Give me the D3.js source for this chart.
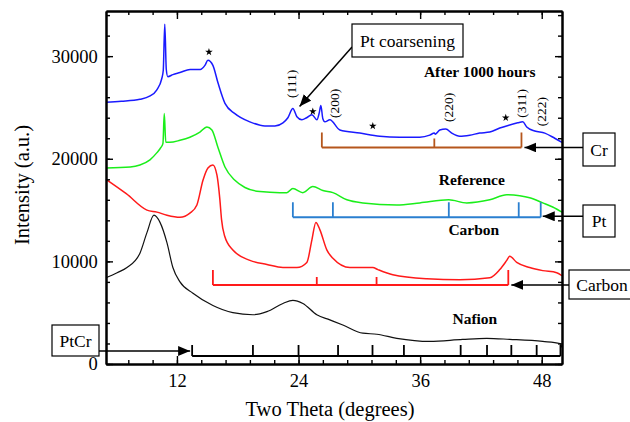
<!DOCTYPE html>
<html>
<head>
<meta charset="utf-8">
<script src="https://cdn.jsdelivr.net/npm/d3@7"></script>
<style>
  body { margin: 0; background: #fff; }
  svg { font-family: "Liberation Serif", "Times New Roman", serif; }
  .axis path, .axis line { stroke: #000; }
</style>
</head>
<body>
<svg width="630" height="422"></svg>
<script>
// two theta (deg), intensity (a.u.)
const afterHours = [
  [5.0,25500],[6.5,25600],[8.35,25800],[9.3,26100],[10.0,26700],[10.5,27800],[10.65,28600],
  [10.8,33100],[10.95,28700],[11.1,28000],[11.6,28200],[12.3,28400],[13.3,28700],[14.3,28700],
  [14.76,29100],[15.06,29600],[15.55,29100],[16.05,27400],[16.74,25400],[17.72,24400],[19.2,23600],
  [20.68,23200],[21.67,23200],[22.46,23500],[22.95,24000],[23.44,24900],[23.84,24100],[24.33,23800],
  [24.8,24000],[25.32,24300],[25.81,23800],[26.05,24500],[26.2,25200],[26.4,23900],[26.6,23600],
  [27.09,23800],[28.08,22800],[30.05,22500],[32.02,22200],[34.0,22100],[35.97,22100],[36.95,22300],
  [37.4,22500],[37.5,22400],[37.94,22800],[38.53,22900],[39.12,22500],[39.91,22200],[40.9,22300],
  [41.88,22500],[42.87,22600],[43.86,23000],[44.84,23300],[45.63,23500],[46.12,23600],[46.52,23100],
  [47.31,22700],[48.3,22500],[49.28,22000],[50.0,21600]
];
const reference = [
  [5.0,19100],[7.4,19200],[8.35,19400],[9.34,19900],[10.03,20600],[10.42,21100],[10.62,21500],
  [10.75,24400],[10.9,21600],[11.3,21600],[12.3,21800],[13.28,22100],[14.27,22600],[14.96,23100],
  [15.45,22800],[16.05,21100],[16.74,19200],[17.72,17900],[18.71,17200],[20.19,16800],[22.16,16700],
  [22.85,16700],[23.44,17100],[24.43,16700],[25.41,17300],[26.4,16900],[27.39,16700],[28.77,16000],
  [30.35,15700],[33.7,15500],[35.97,15700],[38.83,16000],[40.6,15700],[42.87,16000],[44.55,16500],
  [45.83,16400],[46.81,16200],[48.1,15700],[49.08,15300],[50.0,14800]
];
const carbon = [
  [5.0,18000],[7.0,16600],[9.04,15000],[10.03,14800],[11.02,14500],[12.3,14300],[13.28,14700],
  [13.97,15500],[14.57,17900],[15.06,19100],[15.55,19400],[15.95,18400],[16.24,16000],[16.4,14100],
  [16.7,12500],[17.52,11100],[19.2,10100],[20.88,9700],[22.46,9400],[23.84,9400],[24.82,9900],
  [25.32,12100],[25.71,13800],[26.1,13100],[26.8,11100],[27.39,10300],[29.07,9400],[31.33,9400],
  [31.83,9200],[33.3,8700],[36.66,8300],[39.91,8200],[42.87,8400],[43.86,9200],[44.55,10100],
  [44.84,10500],[45.53,9900],[46.81,9400],[48.1,9100],[49.48,8900],[50.0,8600]
];
const nafion = [
  [5.0,8400],[6.1,8900],[7.07,9400],[8.35,10800],[9.04,12800],[9.73,14500],[10.33,13800],
  [11.02,11800],[11.6,9400],[12.3,8000],[13.58,6900],[15.55,5700],[17.52,5000],[19.5,4800],
  [20.88,5100],[22.46,5900],[23.44,6200],[24.43,5900],[25.8,4800],[27.09,4300],[28.37,3800],
  [30.35,3000],[31.73,2900],[33.7,2500],[36.95,2200],[40.2,2400],[42.57,2500],[44.84,2400],
  [48.1,2200],[49.8,2000],[50.0,1600]
];

// reference peak positions (deg) and the level of each tick bar
const crPeaks = [26.3, 37.4, 46.0];
const ptPeaks = [23.44, 27.39, 38.83, 45.73, 47.9];
const carbonPeaks = [15.55, 25.8, 31.7, 44.7];
const ptcrPeaks = [13.5, 19.5, 24.0, 27.9, 31.3, 34.4, 40.0, 42.6, 45.0, 47.5, 49.85];
const barLevels = { cr: 21100, pt: 14300, carbon: 7700, ptcr: 780 };

const stars = [[15.16,30400],[25.41,24600],[31.33,23200],[44.45,24000]];
const millerLabels = ["(111)", "(200)", "(220)", "(311)", "(222)"];
const millerPos = [[23.34,27300],[27.58,25400],[38.83,25000],[46.03,25400],[48.0,24600]];
const curveNames = ["After 1000 hours", "Reference", "Carbon", "Nafion"];
const namePos = [[41.88,28500],[41.1,18000],[41.3,13100],[41.4,4400]];

const xMajor = [12, 24, 36, 48];
const yMajor = [0, 10000, 20000, 30000];

const serif = '"Liberation Serif", "Times New Roman", serif';
const svg = d3.select("svg");
const margin = { top: 11, right: 68, bottom: 58, left: 106 };
const W = 630, H = 422;

const x = d3.scaleLinear().domain([5, 50]).range([margin.left, W - margin.right]);
const y = d3.scaleLinear().domain([0, 34400]).range([H - margin.bottom, margin.top]);

const defs = svg.append("defs");
defs.append("marker")
  .attr("id", "arrow")
  .attr("viewBox", "0 0 12 10")
  .attr("refX", 12).attr("refY", 5)
  .attr("markerWidth", 12).attr("markerHeight", 10)
  .attr("markerUnits", "userSpaceOnUse")
  .attr("orient", "auto")
  .append("path").attr("d", "M0,0 L12,5 L0,10 z").attr("fill", "#000");

// curves
const line = d3.line().x(d => x(d[0])).y(d => y(d[1])).curve(d3.curveMonotoneX);
const series = [
  { data: afterHours, color: "#1a1aff" },
  { data: reference, color: "#1aee1a" },
  { data: carbon, color: "#ff1a1a" },
  { data: nafion, color: "#111" }
];
svg.append("g").selectAll("path")
  .data(series)
  .join("path")
  .attr("d", d => line(d.data))
  .attr("fill", "none")
  .attr("stroke", d => d.color)
  .attr("stroke-width", d => d.color === "#111" ? 1.2 : 1.5);

// peak tick bars
function peakBar(peaks, level, color, tall, short) {
  const g = svg.append("g").attr("stroke", color).attr("stroke-width", 1.8);
  const y0 = y(level);
  g.append("line")
    .attr("x1", x(peaks[0])).attr("x2", x(peaks[peaks.length - 1]))
    .attr("y1", y0).attr("y2", y0);
  g.selectAll(".pk").data(peaks).join("line")
    .attr("x1", d => x(d)).attr("x2", d => x(d))
    .attr("y1", y0)
    .attr("y2", (d, i) => y0 - ((i === 0 || i === peaks.length - 1) ? tall : short));
}
peakBar(crPeaks, barLevels.cr, "#b5561c", 15, 9);
peakBar(ptPeaks, barLevels.pt, "#2a7fd0", 15, 15);
peakBar(carbonPeaks, barLevels.carbon, "#ff1a1a", 15, 8);
peakBar(ptcrPeaks, barLevels.ptcr, "#000", 11, 11);

// axes (ticks point inward)
const xMinor = d3.range(3, 21).map(k => +(k * 2.4).toFixed(1)).filter(v => v > 5 && v < 50);
const yMinor = d3.range(0, 34001, 2000);
const yBottom = H - margin.bottom, yTop = margin.top, xLeft = margin.left, xRight = W - margin.right;

function axis(gen, tr, vals, size, labels) {
  const g = svg.append("g").attr("class", "axis").attr("transform", tr)
    .call(gen.tickValues(vals).tickSizeInner(-size).tickSizeOuter(0).tickPadding(labels ? 10 : 0)
      .tickFormat(labels ? d3.format("d") : ""));
  g.select(".domain").attr("stroke-width", 2);
  g.selectAll(".tick line").attr("stroke-width", 1.4);
  g.selectAll(".tick text")
    .style("font-family", serif).style("font-size", "18.5px").attr("fill", "#000");
  return g;
}
axis(d3.axisBottom(x), `translate(0,${yBottom})`, xMinor, 4, false);
axis(d3.axisBottom(x), `translate(0,${yBottom})`, xMajor, 8, true);
axis(d3.axisTop(x), `translate(0,${yTop})`, xMinor, 4, false);
axis(d3.axisTop(x), `translate(0,${yTop})`, xMajor, 8, false);
axis(d3.axisLeft(y), `translate(${xLeft},0)`, yMinor, 4, false);
axis(d3.axisLeft(y), `translate(${xLeft},0)`, yMajor, 7, true).selectAll("text").attr("dx", "0.1em");
axis(d3.axisRight(y), `translate(${xRight},0)`, yMinor, 4, false);
axis(d3.axisRight(y), `translate(${xRight},0)`, yMajor, 7, false);

// axis titles
svg.append("text").attr("x", 330).attr("y", 416).attr("text-anchor", "middle")
  .attr("font-size", 20.5).text("Two Theta (degrees)");
svg.append("text").attr("transform", "translate(29,185) rotate(-90)").attr("text-anchor", "middle")
  .attr("font-size", 20.5).text("Intensity (a.u.)");

// curve names
svg.append("g").selectAll("text").data(curveNames).join("text")
  .attr("x", (d, i) => x(namePos[i][0])).attr("y", (d, i) => y(namePos[i][1]))
  .attr("dy", "0.35em").attr("text-anchor", "middle")
  .attr("font-size", 15.5).attr("font-weight", "bold").text(d => d);

// miller indices, rotated
svg.append("g").selectAll("text").data(millerLabels).join("text")
  .attr("transform", (d, i) => `translate(${x(millerPos[i][0]) + 4},${y(millerPos[i][1])}) rotate(-90)`)
  .attr("text-anchor", "middle").attr("font-size", 13.5).text(d => d);

// stars
svg.append("g").selectAll("path").data(stars).join("path")
  .attr("d", d3.symbol(d3.symbolStar, 18))
  .attr("transform", d => `translate(${x(d[0])},${y(d[1])})`)
  .attr("fill", "#000");

// labelled boxes with arrows
function boxLabel(text, bx, by, bw, bh) {
  svg.append("rect").attr("x", bx).attr("y", by).attr("width", bw).attr("height", bh)
    .attr("fill", "#fff").attr("stroke", "#000").attr("stroke-width", 1.2);
  svg.append("text").attr("x", bx + bw / 2).attr("y", by + bh / 2).attr("dy", "0.35em")
    .attr("text-anchor", "middle").attr("font-size", 17.5).text(text);
}
function arrow(x1, y1, x2, y2) {
  svg.append("line").attr("x1", x1).attr("y1", y1).attr("x2", x2).attr("y2", y2)
    .attr("stroke", "#000").attr("stroke-width", 1.5).attr("marker-end", "url(#arrow)");
}

arrow(583, y(barLevels.cr), x(crPeaks[2]) + 3, y(barLevels.cr));
boxLabel("Cr", 583, 133, 32, 33);
arrow(583, y(barLevels.pt) - 1, x(ptPeaks[4]) + 2, y(barLevels.pt) - 1);
boxLabel("Pt", 583, 205, 32, 32);
arrow(569, y(barLevels.carbon), x(carbonPeaks[3]) + 3, y(barLevels.carbon));
boxLabel("Carbon", 569, 270, 66, 29);
arrow(99, y(barLevels.ptcr) - 5, x(ptcrPeaks[0]) - 2, y(barLevels.ptcr) - 5);
boxLabel("PtCr", 52, 325, 47, 31);
arrow(352, 47, x(24.1), y(25100));
boxLabel("Pt coarsening", 352, 24, 111, 33);
</script>
</body>
</html>
